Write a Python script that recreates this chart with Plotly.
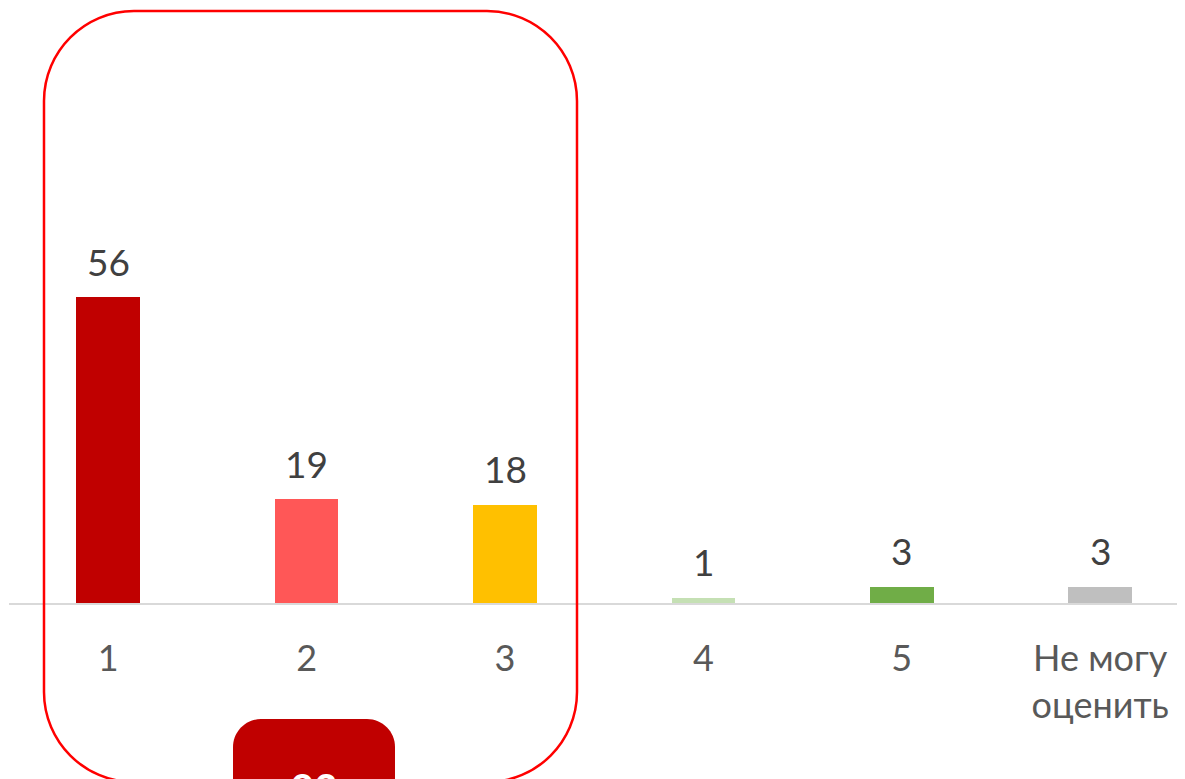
import plotly.graph_objects as go

categories = ["1", "2", "3", "4", "5", "Не могу<br>оценить"]
values = [56, 19, 18, 1, 3, 3]
bar_colors = ["#C00000", "#FF5757", "#FFC000", "#C5E0B4", "#70AD47", "#BFBFBF"]
total_label = "93"

OFF = 8  # page body margin
W, H = 1185 - OFF, 779 - OFF
ML, MR, MT, MB = 9 - OFF, 0, 0, 779 - 603
PW, PH = W - ML - MR, H - MT - MB


def px(x):
    return (x - OFF - ML) / PW


def py(y):
    return (H - MB - (y - OFF)) / PH


def rrect(x0, y0, x1, y1, r):
    k = 0.5523 * r
    pts = [
        ("M", [(x0 + r, y0)]),
        ("L", [(x1 - r, y0)]),
        ("C", [(x1 - r + k, y0), (x1, y0 + r - k), (x1, y0 + r)]),
        ("L", [(x1, y1 - r)]),
        ("C", [(x1, y1 - r + k), (x1 - r + k, y1), (x1 - r, y1)]),
        ("L", [(x0 + r, y1)]),
        ("C", [(x0 + r - k, y1), (x0, y1 - r + k), (x0, y1 - r)]),
        ("L", [(x0, y0 + r)]),
        ("C", [(x0, y0 + r - k), (x0 + r - k, y0), (x0 + r, y0)]),
    ]
    s = ""
    for cmd, ps in pts:
        s += cmd + " " + " ".join(f"{px(a):.5f},{py(b):.5f}" for a, b in ps) + " "
    return s + "Z"


fig = go.Figure()
fig.add_trace(go.Bar(
    x=categories, y=values, marker=dict(color=bar_colors, line=dict(width=0)),
    width=0.32, hoverinfo="skip",
))

for i, v in enumerate(values):
    fig.add_annotation(
        x=i, y=v, xref="x", yref="y", text=str(v), showarrow=False,
        yanchor="middle", yshift=36,
        font=dict(family="Lato", size=37, color="#404040"),
    )

fig.add_shape(type="path", xref="paper", yref="paper",
              path=rrect(44, 11, 577, 782, 90),
              line=dict(color="#FF0000", width=2.5), fillcolor="rgba(0,0,0,0)",
              layer="above")
fig.add_shape(type="path", xref="paper", yref="paper",
              path=rrect(233, 719, 395, 860, 28),
              line=dict(width=0), fillcolor="#C00000", layer="above")
fig.add_annotation(
    x=px(314), y=py(762), xref="paper", yref="paper", text="<b>" + total_label + "</b>",
    showarrow=False, yanchor="top", xanchor="center",
    font=dict(family="Lato", size=40, color="#FFFFFF"),
)

fig.update_layout(
    width=W, height=H,
    margin=dict(l=ML, r=MR, t=MT, b=MB, autoexpand=False),
    paper_bgcolor="white", plot_bgcolor="white",
    showlegend=False, bargap=0,
    xaxis=dict(
        type="category", range=[-0.5, -0.5 + PW / 198.4],
        showline=True, linecolor="#D9D9D9", linewidth=1.5,
        showgrid=False, zeroline=False, ticks="",
        tickfont=dict(family="Lato", size=36, color="#595959"),
        ticklabelstandoff=23, automargin=False,
    ),
    yaxis=dict(
        range=[0, PH / 5.464], visible=False, showgrid=False, zeroline=False,
    ),
)

fig.write_html("out.html")
